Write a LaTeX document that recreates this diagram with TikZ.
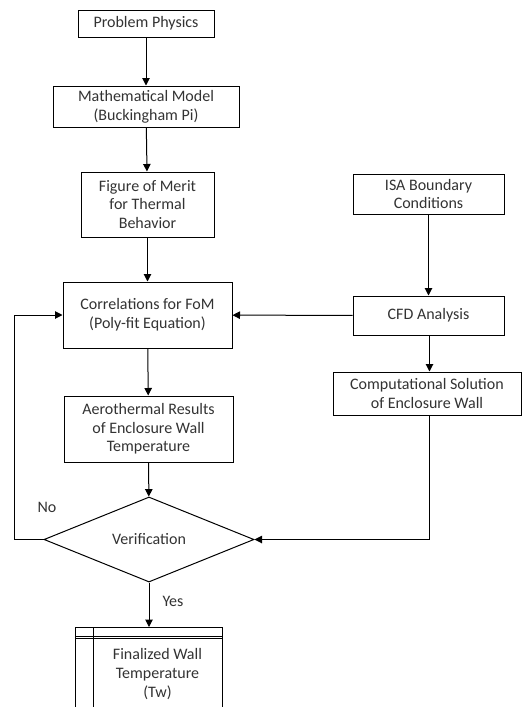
\documentclass[tikz,border=0pt]{standalone}
\usepackage{fontspec}
\setmainfont{Carlito}
\usetikzlibrary{arrows.meta,shapes.geometric}
\begin{document}
\begin{tikzpicture}[x=1pt,y=-1pt,
  font=\fontsize{16pt}{18.7pt}\selectfont,
  every node/.style={text=black!80},
  box/.style={draw=black,rectangle,inner sep=0pt,align=center,line width=1pt},
  link/.style={line width=1pt,-{Triangle[length=7.5pt,width=7.5pt]}},
  plain/.style={line width=1pt}]
\useasboundingbox (0,0) rectangle (522,707);
\clip (0,0) rectangle (522,707);
\fill[white] (0,0) rectangle (522,707);

\node[box,minimum width=136pt,minimum height=27pt] (pp) at (146,23.5) {Problem Physics};
\node[box,minimum width=186pt,minimum height=41pt] (mm) at (146,106.5) {Mathematical Model\\(Buckingham Pi)};
\node[box,minimum width=133pt,minimum height=65pt] (fom) at (147.5,204.5) {Figure of Merit\\for Thermal\\Behavior};
\node[box,minimum width=151pt,minimum height=40pt] (isa) at (428.5,194) {ISA Boundary\\Conditions};
\node[box,minimum width=151pt,minimum height=39pt] (cfd) at (428.5,315.5) {CFD Analysis};
\node[box,minimum width=188pt,minimum height=43pt] (comp) at (427,393.5) {Computational Solution\\of Enclosure Wall};
\node[box,minimum width=169pt,minimum height=66pt] (corr) at (147.5,315) {Correlations for FoM\\(Poly-fit Equation)};
\node[box,minimum width=169pt,minimum height=66pt] (aero) at (148.5,429) {Aerothermal Results\\of Enclosure Wall\\Temperature};
\node[draw=black,diamond,inner sep=0pt,line width=1pt,minimum width=210pt,minimum height=75pt] (ver) at (149,539.5) {Verification};

% final (predefined/table-like) box, cut at bottom
\draw[plain] (75,740) -- (75,627) -- (222,627) -- (222,740);
\draw[line width=0.6pt] (75,636) -- (222,636);
\draw[line width=0.6pt] (75,638.5) -- (222,638.5);
\draw[plain] (93,627) -- (93,740);
\coordinate (fin) at (149,627);
\node[align=center,inner sep=0pt] (fintext) at (157.5,674) {Finalized Wall\\Temperature\\(Tw)};

\coordinate (ret1) at (14,539.5);
\coordinate (ret2) at (14,315);
\coordinate (cmpdown) at (429,539.5);
\coordinate (cfdout) at (429.5,335);

\draw[link] (pp) -- (mm);
\draw[link] (mm) -- (fom);
\draw[link] (fom) -- (corr);
\draw[link] (isa) -- (cfd);
\draw[link] (cfd) -- (corr);
\draw[link] (cfdout) -- (cfdout |- comp.north);
\draw[link] (corr) -- (aero);
\draw[link] (aero) -- (ver);
\draw[link] (cmpdown |- comp.south) -- (cmpdown) -- (ver.east);
\draw[link] (ver.west) -- (ret1) -- (ret2) -- (corr.west);
\draw[link] (ver.south) -- (fin);

\node[inner sep=0pt] (no) at (47,507) {No};
\node[inner sep=0pt] (yes) at (173,601) {Yes};
\end{tikzpicture}
\end{document}
